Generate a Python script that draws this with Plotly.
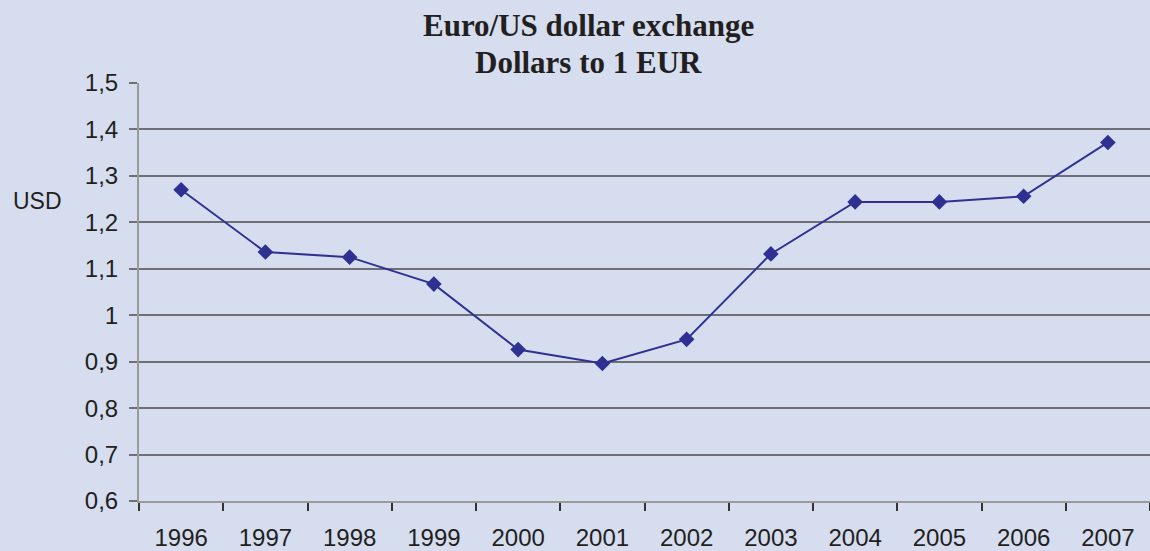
import plotly.graph_objects as go

years = ["1996", "1997", "1998", "1999", "2000", "2001", "2002", "2003", "2004", "2005", "2006", "2007"]
usd_per_eur = [1.270, 1.136, 1.125, 1.067, 0.926, 0.896, 0.948, 1.132, 1.244, 1.244, 1.256, 1.372]
y_ticks = [0.6, 0.7, 0.8, 0.9, 1.0, 1.1, 1.2, 1.3, 1.4, 1.5]
y_tick_labels = ["0,6", "0,7", "0,8", "0,9", "1", "1,1", "1,2", "1,3", "1,4", "1,5"]
title_lines = ["Euro/US dollar exchange", "Dollars to 1 EUR"]

bg = "#D5DDEF"
W, H = 1150, 551
L, R, T, B = 139, 0, 83, 48
ph = H - T - B

fig = go.Figure()
fig.add_trace(go.Scatter(
    x=years, y=usd_per_eur, mode="lines+markers",
    line=dict(color="#2E3192", width=2),
    marker=dict(symbol="diamond", size=12, color="#2E3192"),
    cliponaxis=False, showlegend=False,
))
fig.update_layout(
    width=W, height=H,
    paper_bgcolor=bg, plot_bgcolor=bg,
    margin=dict(l=L, r=R, t=T, b=B),
    font=dict(family="Liberation Sans", size=24, color="#231F20"),
)
fig.update_xaxes(
    type="category", range=[-0.5, 11.5], tickson="boundaries",
    ticks="outside", ticklen=8, tickwidth=1.5, tickcolor="#333333",
    showgrid=False, showline=True, linecolor="#9A9A9A", linewidth=2,
    tickfont=dict(size=24), ticklabelstandoff=14,
)
fig.update_yaxes(
    range=[0.6, 1.5], tickvals=y_ticks, ticktext=y_tick_labels,
    ticks="outside", ticklen=8, tickwidth=1.5, tickcolor="#707070",
    showgrid=True, gridcolor="#6E6E76", gridwidth=2,
    showline=True, linecolor="#9A9A9A", linewidth=2, zeroline=False,
    tickfont=dict(size=24), ticklabelstandoff=6,
)
for txt, yc in zip(title_lines, [25, 62]):
    fig.add_annotation(text="<b>" + txt + "</b>", xref="paper", yref="paper",
                       x=(588 - L) / (W - L - R), y=(H - B - yc) / ph,
                       xanchor="center", yanchor="middle", showarrow=False,
                       font=dict(family="Liberation Serif", size=31, color="#231F20"))
fig.add_annotation(text="USD", xref="paper", yref="paper",
                   x=(37 - L) / (W - L - R), y=(H - B - 202) / ph,
                   xanchor="center", yanchor="middle", showarrow=False,
                   font=dict(size=23, color="#231F20"))
fig.write_html("out.html", config={"displayModeBar": False},
               post_script="document.body.style.margin='0';document.body.style.padding='0';")
